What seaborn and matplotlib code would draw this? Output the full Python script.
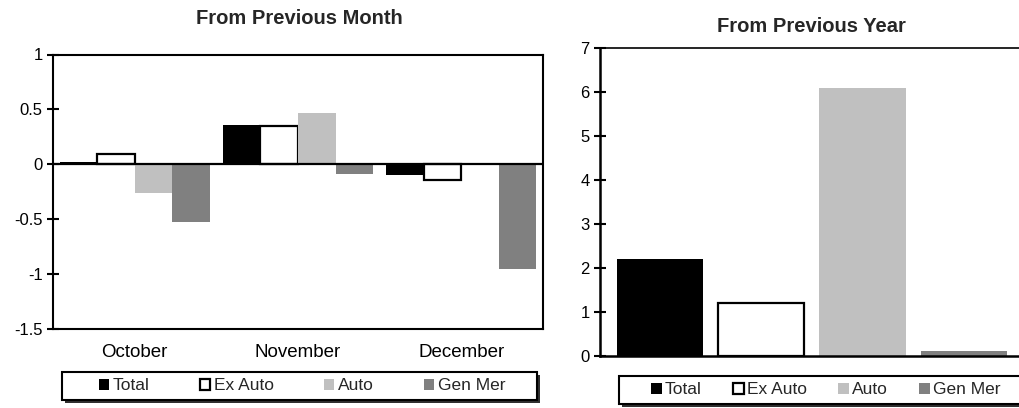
import matplotlib
matplotlib.use("Agg")
import matplotlib.pyplot as plt
import seaborn as sns
import pandas as pd
from matplotlib.patches import Rectangle, Patch

# ---- data ----
months = ["October", "November", "December"]
series = ["Total", "Ex Auto", "Auto", "Gen Mer"]
total_m = [0.02, 0.36, -0.10]
exauto_m = [0.09, 0.35, -0.14]
auto_m = [-0.26, 0.47, 0.015]
genmer_m = [-0.53, -0.09, -0.95]
yoy_values = [2.2, 1.2, 6.1, 0.12]
left_ticks = [-1.5, -1, -0.5, 0, 0.5, 1]
left_ticklabels = ["-1.5", "-1", "-0.5", "0", "0.5", "1"]
right_ticks = [0, 1, 2, 3, 4, 5, 6, 7]
right_ticklabels = ["0", "1", "2", "3", "4", "5", "6", "7"]
title_left = "From Previous Month"
title_right = "From Previous Year"

colors = {"Total": "#000000", "Ex Auto": "#ffffff", "Auto": "#c0c0c0", "Gen Mer": "#808080"}

sns.set_theme(style="white")
plt.rcParams['font.family'] = ['Liberation Sans', 'DejaVu Sans']
plt.rcParams['axes.edgecolor'] = 'black'

W, H = 1020, 408
fig = plt.figure(figsize=(W / 100, H / 100), dpi=100)
fig.patch.set_facecolor('white')


def ax_at(x0, y0, x1, y1):
    return fig.add_axes([x0 / W, 1 - y1 / H, (x1 - x0) / W, (y1 - y0) / H])


def style_bars(ax):
    for cont, name in zip(ax.containers, series):
        for p in cont:
            if name == "Ex Auto":
                p.set_edgecolor('black')
                p.set_linewidth(1.6)
            else:
                p.set_linewidth(0)


# ---- left chart ----
ax1 = ax_at(53, 54.5, 543, 329)
df_m = pd.DataFrame({
    "month": months * 4,
    "series": [s for s in series for _ in months],
    "value": total_m + exauto_m + auto_m + genmer_m,
})
sns.barplot(data=df_m, x="month", y="value", hue="series", order=months,
            hue_order=series, palette=colors, width=0.92, gap=0,
            saturation=1, legend=False, ax=ax1, errorbar=None)
style_bars(ax1)
ax1.axhline(0, color='black', lw=1.6, zorder=3)
ax1.set_ylim(-1.5, 1)
ax1.set_xlim(-0.5, 2.5)
ax1.set_yticks(left_ticks)
ax1.set_yticklabels(left_ticklabels)
ax1.set_xlabel("")
ax1.set_ylabel("")
ax1.tick_params(axis='y', direction='inout', length=9, width=1.5, left=True,
                labelsize=12, pad=3, colors='black')
ax1.tick_params(axis='x', length=0, labelsize=13.5, pad=11, colors='black')
for sp in ax1.spines.values():
    sp.set_visible(True)
    sp.set_color('black')
    sp.set_linewidth(1.5)

# ---- right chart ----
ax2 = ax_at(600, 48.3, 1023, 356)
sns.barplot(x=series, y=yoy_values, hue=series, hue_order=series, order=series,
            palette=colors, width=0.85, saturation=1, legend=False, ax=ax2,
            errorbar=None)
for p in ax2.patches:
    p.set_linewidth(0)
    fc = p.get_facecolor()
    if fc[0] > 0.99 and fc[1] > 0.99 and fc[2] > 0.99:
        p.set_edgecolor('black')
        p.set_linewidth(1.6)
ax2.set_xlim(-0.589, 3.583)
ax2.set_ylim(0, 7)
ax2.set_yticks(right_ticks)
ax2.set_yticklabels(right_ticklabels)
ax2.set_xticks([])
ax2.tick_params(axis='y', direction='inout', length=9, width=1.5, left=True,
                labelsize=12, pad=3, colors='black')
for k, sp in ax2.spines.items():
    sp.set_color('black')
ax2.spines['left'].set_linewidth(1.8)
ax2.spines['bottom'].set_linewidth(1.8)
ax2.spines['top'].set_linewidth(1.2)
ax2.spines['right'].set_visible(False)

# ---- titles ----
fig.text(299 / W, 1 - 19 / H, title_left, ha='center', va='center',
         fontsize=14.5, fontweight='bold')
fig.text(811 / W, 1 - 27 / H, title_right, ha='center', va='center',
         fontsize=14.5, fontweight='bold')


# ---- legends ----
def legend_box(x0, y0, x1, y1):
    sh = Rectangle((x0 / W + 3 / W, 1 - (y1 + 3) / H), (x1 - x0) / W, (y1 - y0) / H,
                   transform=fig.transFigure, facecolor='#303030', edgecolor='none', zorder=1)
    bx = Rectangle((x0 / W, 1 - y1 / H), (x1 - x0) / W, (y1 - y0) / H,
                   transform=fig.transFigure, facecolor='white', edgecolor='black',
                   linewidth=1.5, zorder=2)
    fig.add_artist(sh)
    fig.add_artist(bx)


def handles():
    hs = []
    for s in series:
        if s == "Ex Auto":
            hs.append(Patch(facecolor='white', edgecolor='black', linewidth=1.6, label=s))
        else:
            hs.append(Patch(facecolor=colors[s], edgecolor='none', label=s))
    return hs


legend_box(62, 372, 537, 400)
lg1 = fig.legend(handles=handles(), loc='center', ncol=4,
                 bbox_to_anchor=(302 / W, 1 - 386 / H), frameon=False,
                 fontsize=12.5, handlelength=0.6, handleheight=0.6,
                 handletextpad=0.2, columnspacing=2.9)
lg1.set_zorder(5)

legend_box(619, 376, 1035, 404)
lg2 = fig.legend(handles=handles(), loc='center', ncol=4,
                 bbox_to_anchor=(826 / W, 1 - 390 / H), frameon=False,
                 fontsize=12.5, handlelength=0.6, handleheight=0.6,
                 handletextpad=0.2, columnspacing=1.8)
lg2.set_zorder(5)

fig.savefig("out.png", dpi=100, facecolor='white')
